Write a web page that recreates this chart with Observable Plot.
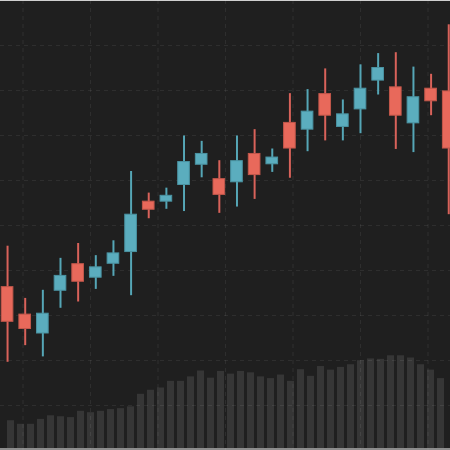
<!DOCTYPE html>
<html>
<head>
<meta charset="utf-8">
<script src="https://cdn.jsdelivr.net/npm/d3@7"></script>
<script src="https://cdn.jsdelivr.net/npm/@observablehq/plot@0.6"></script>
<style>
  html, body { margin: 0; padding: 0; background: #1f1f1f; }
  #chart {
    position: relative; width: 450px; height: 450px; overflow: hidden;
    background: #1f1f1f;
    box-shadow: inset 0 1px 0 #d0d0d0, inset 0 -2px 0 #8c8c8c;
  }
  #chart svg { position: absolute; left: 0; top: 0; background: transparent; }
</style>
</head>
<body>
<div id="chart"></div>
<script>
// Candle data (price units 0–100)
const opens  = [36.3, 30.2, 26.0, 35.5, 41.4, 38.4, 41.5, 44.1, 55.3, 55.3, 59.0, 63.5, 60.3, 59.6, 65.9, 63.6, 72.8, 71.3, 79.2, 71.9, 75.8, 82.2, 80.7, 72.7, 80.4, 79.8];
const closes = [28.6, 27.0, 30.4, 38.8, 37.5, 40.7, 43.8, 52.4, 53.5, 56.6, 64.1, 65.9, 56.8, 64.3, 61.2, 65.1, 67.1, 75.3, 74.4, 74.7, 80.4, 85.0, 74.4, 78.5, 77.6, 67.1];
const highs  = [45.4, 33.8, 35.6, 42.7, 46.0, 43.3, 46.6, 62.0, 57.2, 58.3, 69.9, 68.7, 64.4, 69.9, 71.3, 67.0, 79.3, 80.2, 84.8, 77.9, 85.7, 88.2, 88.4, 85.2, 83.6, 94.6];
const lows   = [19.6, 23.3, 20.8, 31.6, 33.0, 35.8, 38.7, 34.4, 51.5, 53.6, 53.1, 60.6, 52.7, 54.1, 55.8, 61.8, 60.5, 66.4, 68.8, 68.8, 70.4, 79.0, 66.9, 66.2, 74.4, 52.4];

// Volume data
const volumes = [6.2, 5.4, 5.4, 6.5, 7.3, 7.1, 6.9, 8.3, 8.0, 8.3, 8.7, 8.9, 9.3, 12.1, 13.0, 13.5, 15.0, 15.0, 16.0, 17.3, 15.7, 17.2, 16.6, 17.2, 16.9, 16.0, 15.6, 16.4, 15.0, 17.6, 16.1, 18.3, 17.5, 18.1, 18.7, 19.6, 20.0, 19.9, 20.7, 20.7, 20.2, 18.7, 17.5, 15.6];

// Grid tick values
const gridXTicks = [5, 20, 35, 50, 65, 80, 95];
const gridYTicks = [10, 20, 30, 40, 50, 60, 70, 80, 90];

const candles = opens.map((o, i) => ({i, open: o, close: closes[i], high: highs[i], low: lows[i], up: closes[i] >= o}));
const vols = volumes.map((v, i) => ({i, v}));

const W = 450, H = 450;
const chart = document.getElementById("chart");

// Layer 1: volume bars
const volPlot = Plot.plot({
  width: W, height: H,
  marginTop: 0, marginLeft: 0, marginRight: 0, marginBottom: 2,
  style: {background: "transparent"},
  x: {type: "band", domain: d3.range(volumes.length), padding: 0.31, axis: null},
  y: {domain: [0, 100], axis: null},
  marks: [
    Plot.barY(vols, {x: "i", y: "v", fill: "#363636"})
  ]
});
chart.appendChild(volPlot);

// Layer 2: dashed grid
const gridPlot = Plot.plot({
  width: W, height: H, margin: 0,
  style: {background: "transparent"},
  x: {domain: [0, 100], axis: null},
  y: {domain: [0, 100], axis: null},
  marks: [
    Plot.gridX(gridXTicks, {stroke: "#ffffff", strokeOpacity: 0.07, strokeWidth: 1.2, strokeDasharray: "4,4"}),
    Plot.gridY(gridYTicks, {stroke: "#ffffff", strokeOpacity: 0.07, strokeWidth: 1.2, strokeDasharray: "4,4"})
  ]
});
chart.appendChild(gridPlot);

// Layer 3: candles
const red = "#e8695b", redStroke = "#c2574b", redWick = "#d8625a";
const blue = "#5badbe", blueStroke = "#4a93a2", blueWick = "#55a6b6";
const candlePlot = Plot.plot({
  width: W, height: H, margin: 0,
  style: {background: "transparent"},
  x: {domain: [-0.4, 25.1], axis: null},
  y: {domain: [0, 100], axis: null},
  marks: [
    Plot.ruleX(candles, {x: "i", y1: "low", y2: "high", stroke: d => d.up ? blueWick : redWick, strokeWidth: 2}),
    Plot.rect(candles, {
      x1: d => d.i - 0.33, x2: d => d.i + 0.33,
      y1: "open", y2: "close",
      fill: d => d.up ? blue : red,
      stroke: d => d.up ? blueStroke : redStroke,
      strokeWidth: 1
    })
  ]
});
chart.appendChild(candlePlot);
</script>
</body>
</html>
